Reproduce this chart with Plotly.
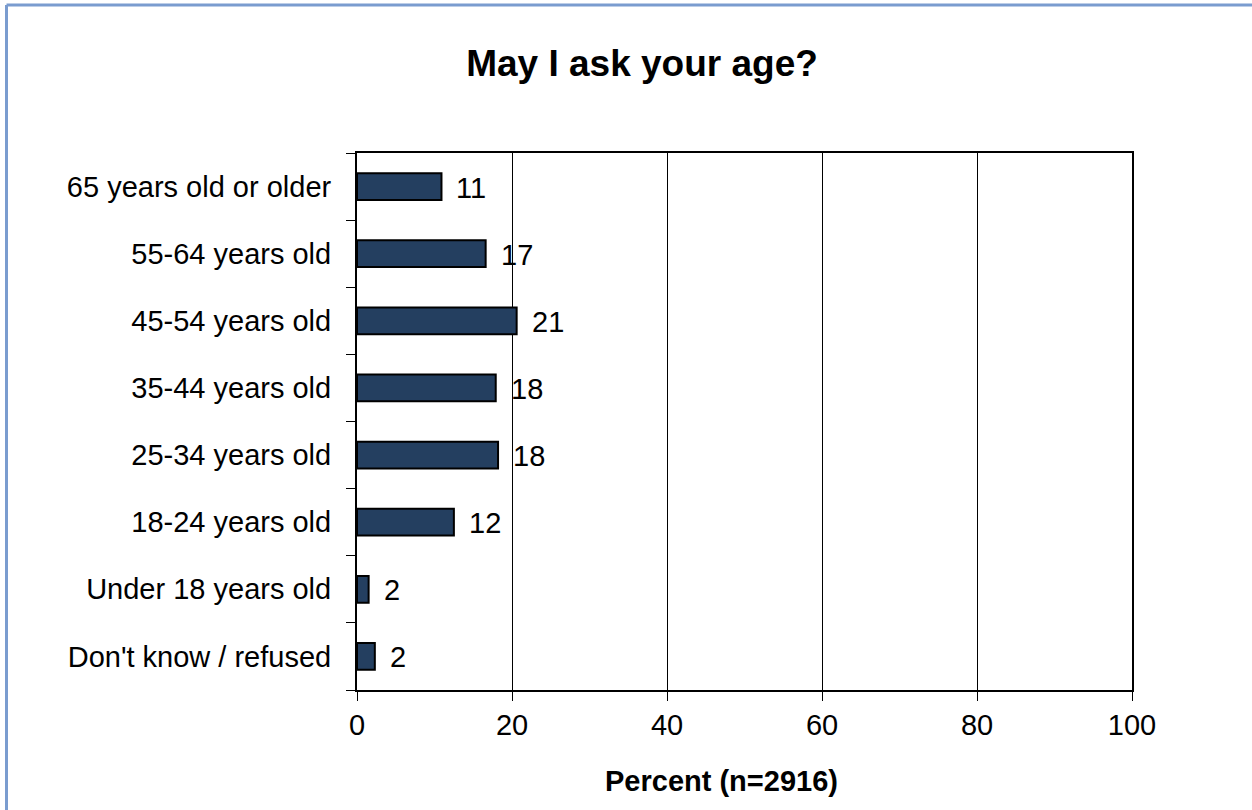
import plotly.graph_objects as go

categories = ["Don't know / refused", "Under 18 years old", "18-24 years old",
              "25-34 years old", "35-44 years old", "45-54 years old",
              "55-64 years old", "65 years old or older"]
values = [2.3, 1.5, 12.5, 18.2, 17.9, 20.6, 16.6, 10.9]
labels = ["2", "2", "12", "18", "18", "21", "17", "11"]
x_ticks = [0, 20, 40, 60, 80, 100]

W, H = 1252, 810
L, R, T, B = 357, 1132, 153, 690
FONT = "Liberation Sans, Arial"
FS = 29

fig = go.Figure()
fig.add_trace(go.Bar(
    y=categories, x=values, orientation="h",
    marker=dict(color="#243F60", line=dict(color="black", width=2)),
    width=0.4, showlegend=False, hoverinfo="skip",
))

for c, v, t in zip(categories, values, labels):
    fig.add_annotation(x=v, y=c, text=t, showarrow=False, xanchor="left",
                       xshift=13, yshift=-1, font=dict(family=FONT, size=FS, color="black"))

def px_x(p):
    return (p - L) / (R - L)

def px_y(p):
    return (B - p) / (B - T)

# axis title
fig.add_annotation(x=px_x(721), y=px_y(781), xref="paper", yref="paper",
                   text="<b>Percent (n=2916)</b>", showarrow=False,
                   xanchor="center", yanchor="middle",
                   font=dict(family=FONT, size=FS, color="black"))

border_color = "#7A9CCF"
fig.add_shape(type="line", xref="paper", yref="paper",
              x0=px_x(6.5), x1=px_x(W + 10), y0=px_y(5), y1=px_y(5),
              line=dict(color=border_color, width=3))
fig.add_shape(type="line", xref="paper", yref="paper",
              x0=px_x(6.5), x1=px_x(6.5), y0=px_y(5), y1=px_y(H + 10),
              line=dict(color=border_color, width=3))

fig.update_layout(
    width=W, height=H,
    margin=dict(l=L, r=W - R, t=T, b=H - B, pad=0),
    paper_bgcolor="white", plot_bgcolor="white",
    font=dict(family=FONT, size=FS, color="black"),
    title=dict(text="<b>May I ask your age?</b>", x=642 / W, xref="container", xanchor="center",
               y=1 - 63 / H, yref="container", yanchor="middle", font=dict(size=37)),
    bargap=0.6,
)
fig.update_xaxes(
    range=[0, 100], tickvals=x_ticks, ticktext=[str(v) for v in x_ticks],
    showgrid=True, gridcolor="black", gridwidth=1,
    showline=True, linecolor="black", linewidth=2, mirror=True,
    ticks="outside", ticklen=9, tickcolor="black", tickwidth=1,
    zeroline=False, ticklabelstandoff=-1,
)
fig.update_yaxes(
    categoryorder="array", categoryarray=categories,
    showline=True, linecolor="black", linewidth=2, mirror=True,
    ticks="outside", ticklen=9, tickcolor="black", tickwidth=1,
    tickson="boundaries", showgrid=False, ticklabelstandoff=18,
)

fig.write_html("out.html")
